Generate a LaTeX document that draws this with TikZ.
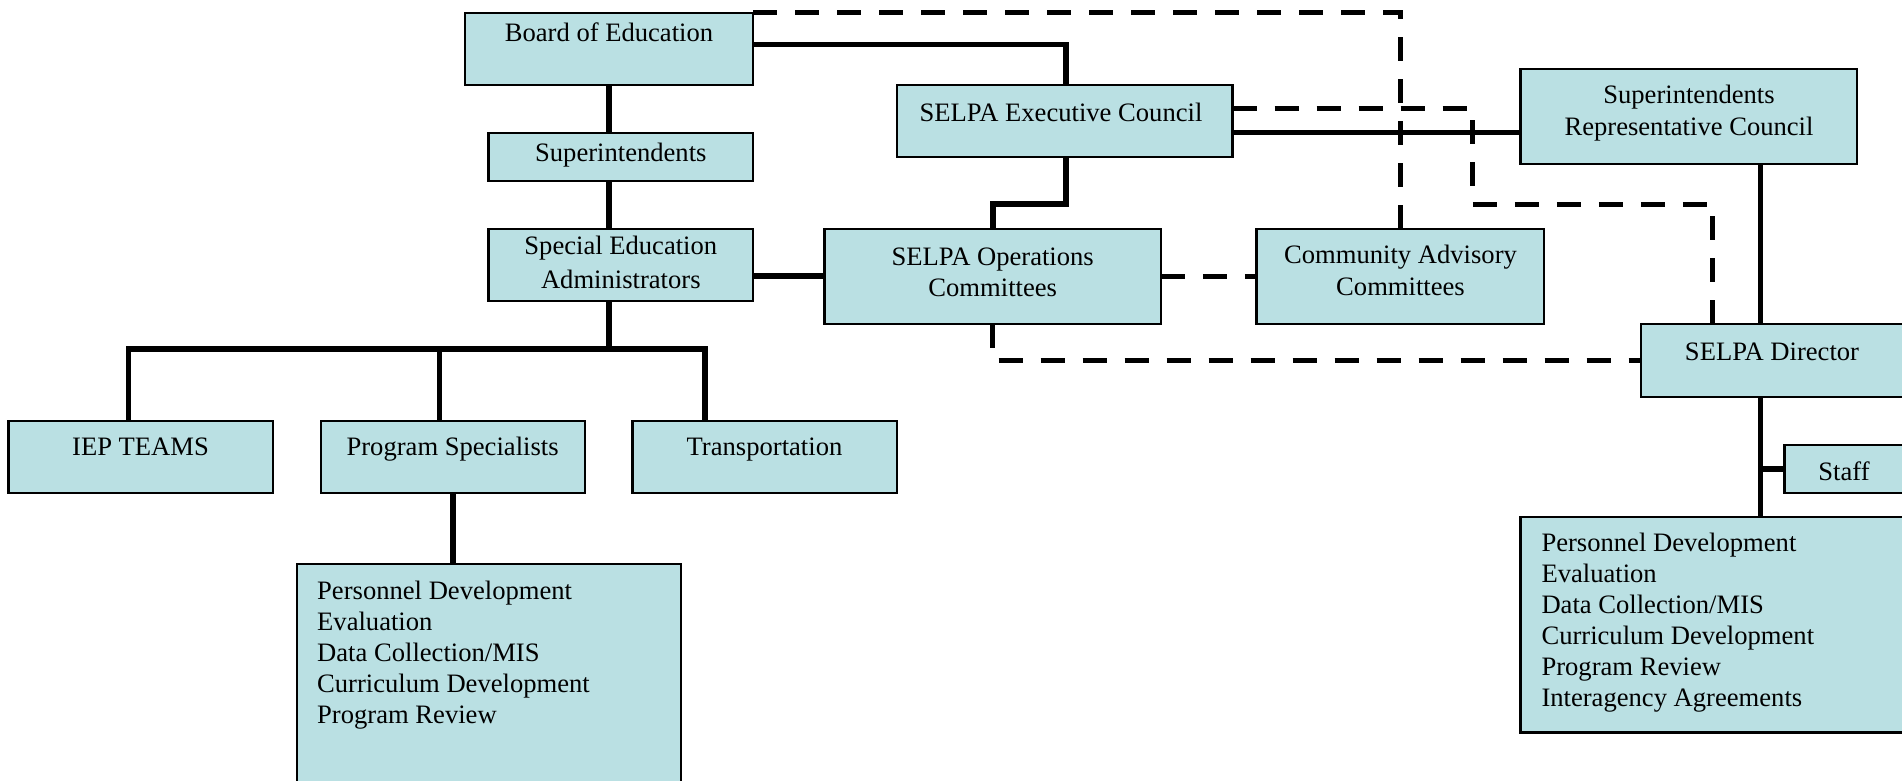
\documentclass[tikz,border=0pt]{standalone}
\usepackage{fontspec}
\setmainfont{Liberation Serif}
\definecolor{boxfill}{RGB}{186,224,227}
\begin{document}
\begin{tikzpicture}[x=1pt,y=-1pt,
  box/.style={draw=black, fill=boxfill, line width=2.3pt, anchor=north west, inner sep=0pt, outer sep=0pt},
  lbl/.style={inner sep=0pt, font=\fontsize{26.6}{31}\selectfont},
  ctr/.style={lbl, anchor=base},
  lft/.style={lbl, anchor=base west},
  solid line/.style={line width=5.5pt, line join=miter},
  dash line/.style={line width=5pt, dash pattern=on 24pt off 18pt, line join=miter}]
\useasboundingbox (0,0) rectangle (1902,780);
\clip (0,0) rectangle (1902,780);

% boxes
\node[box, minimum width=288pt, minimum height=72.3pt] (board) at (465,12.7) {};
\node[box, minimum width=264.5pt, minimum height=48.3pt] (supt) at (488.5,132.7) {};
\node[box, minimum width=264.5pt, minimum height=72.3pt] (sea) at (488.5,228.7) {};
\node[box, minimum width=335.6pt, minimum height=71.7pt] (exec) at (897,85) {};
\node[box, minimum width=336.9pt, minimum height=95.3pt] (src) at (1520.4,69) {};
\node[box, minimum width=336.3pt, minimum height=95.6pt] (ops) at (824.6,228.7) {};
\node[box, minimum width=287.7pt, minimum height=95.6pt] (cac) at (1256.6,228.7) {};
\node[box, minimum width=300pt, minimum height=72.4pt] (dir) at (1641.2,324.3) {};
\node[box, minimum width=150pt, minimum height=48pt] (staff) at (1784.5,445) {};
\node[box, minimum width=420pt, minimum height=215.5pt] (rlist) at (1520.4,517) {};
\node[box, minimum width=264.4pt, minimum height=72.6pt] (iep) at (8.6,420.7) {};
\node[box, minimum width=263.9pt, minimum height=72.6pt] (progspec) at (320.8,420.7) {};
\node[box, minimum width=264.5pt, minimum height=72.6pt] (trans) at (632.4,420.7) {};
\node[box, minimum width=383.8pt, minimum height=250pt] (llist) at (297,564.3) {};

% labels
\node[ctr] (tboard) at (609,41.5) {Board of Education};
\node[ctr] (tsupt) at (620.8,161.5) {Superintendents};
\node[ctr] (tsea1) at (620.8,254.8) {Special Education};
\node[ctr] (tsea2) at (620.8,288.2) {Administrators};
\node[ctr] (texec) at (1061,121.7) {SELPA Executive Council};
\node[ctr] (tsrc1) at (1689,103.5) {Superintendents};
\node[ctr] (tsrc2) at (1689,135.8) {Representative Council};
\node[ctr] (tops1) at (992.7,265.8) {SELPA Operations};
\node[ctr] (tops2) at (992.7,296.8) {Committees};
\node[ctr] (tcac1) at (1400.5,263.5) {Community Advisory};
\node[ctr] (tcac2) at (1400.5,295.8) {Committees};
\node[ctr] (tdir) at (1772,360.8) {SELPA Director};
\node[ctr] (tstaff) at (1844,480.2) {Staff};
\node[ctr] (tiep) at (140.5,455.8) {IEP TEAMS};
\node[ctr] (tps) at (452.6,455.8) {Program Specialists};
\node[ctr] (ttr) at (764.5,455.8) {Transportation};

\node[lft] (l1) at (317,599.8) {Personnel Development};
\node[lft] (l2) at (317,630.7) {Evaluation};
\node[lft] (l3) at (317,661.6) {Data Collection/MIS};
\node[lft] (l4) at (317,692.5) {Curriculum Development};
\node[lft] (l5) at (317,723.4) {Program Review};

\node[lft] (r1) at (1541.3,551.5) {Personnel Development};
\node[lft] (r2) at (1541.3,582.6) {Evaluation};
\node[lft] (r3) at (1541.3,613.6) {Data Collection/MIS};
\node[lft] (r4) at (1541.3,644.7) {Curriculum Development};
\node[lft] (r5) at (1541.3,675.7) {Program Review};
\node[lft] (r6) at (1541.3,706.8) {Interagency Agreements};

% helper coordinates
\coordinate (bx) at (609,0);
\coordinate (b1) at (1065.8,44.3);
\coordinate (e1) at (1065.8,204);
\coordinate (y276) at (0,276);
\coordinate (y133) at (0,132.7);
\coordinate (dx) at (1760.7,0);
\coordinate (busL) at (128.6,349);
\coordinate (busM) at (439.6,349);
\coordinate (busR) at (705,349);
\coordinate (d1) at (1472.5,108.3);
\coordinate (d2) at (1472.5,204);
\coordinate (d3) at (1712.7,204);
\coordinate (o1) at (992.7,360.5);

% solid connectors
\draw[solid line] (board.south -| bx) -- (supt.north -| bx);
\draw[solid line] (supt.south -| bx) -- (sea.north -| bx);
\draw[solid line] (board.east |- b1) -- (b1) -- (exec.north -| b1);
\draw[solid line] (exec.south -| e1) -- (e1) -- (ops.north |- e1) -- (ops.north);
\draw[solid line] (sea.east |- y276) -- (ops.west |- y276);
\draw[solid line] (exec.east |- y133) -- (src.west |- y133);
\draw[solid line] (src.south -| dx) -- (dir.north -| dx);
\draw[solid line] (dir.south -| dx) -- (rlist.north -| dx);
\draw[solid line] (dx |- staff.west) -- (staff.west);
\draw[solid line] (sea.south -| bx) -- (bx |- busL);
\draw[solid line] (iep.north -| busL) -- (busL) -- (busR) -- (trans.north -| busR);
\draw[solid line] (busM) -- (progspec.north -| busM);
\draw[solid line] (progspec.south) -- (progspec.south |- llist.north);

% dashed connectors
\draw[dash line] (board.north east) -- (cac.north |- board.north east) -- (cac.north);
\draw[dash line] (exec.east |- d1) -- (d1) -- (d2) -- (d3) -- (dir.north -| d3);
\draw[dash line] (ops.east |- y276) -- (cac.west |- y276);
\draw[dash line] (ops.south -| o1) -- (o1) -- (dir.west);
\end{tikzpicture}
\end{document}
